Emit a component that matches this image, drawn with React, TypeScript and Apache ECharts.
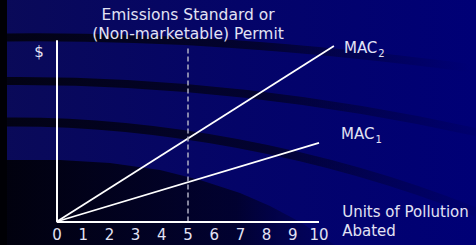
import React, { useEffect, useRef } from "react";
import * as echarts from "echarts";

const xTicks = [0, 1, 2, 3, 4, 5, 6, 7, 8, 9, 10];
const xAxisEnd = 10;
const mac1 = [
  [0, 0],
  [10, 4.36],
];
const mac2 = [
  [0, 0],
  [10.57, 9.72],
];
const standardX = 5;
const standardTop = 9.67;
const titleLines = ["Emissions Standard or", "(Non-marketable) Permit"];
const xName = ["Units of Pollution", "Abated"];
const yName = "$";

const FONT = "DejaVu Sans";
const TXT = "#e2e2f4";

export default function App() {
  const ref = useRef<HTMLDivElement>(null);
  useEffect(() => {
    document.body.style.margin = "0";
    const chart = echarts.init(ref.current!, null, { renderer: "svg" });
    const rich = {
      a: { fontSize: 15, fontFamily: FONT, color: TXT },
      b: { fontSize: 10, fontFamily: FONT, color: TXT, padding: [11, 0, 0, 1] },
    };
    const darkBand = (a1: number) =>
      new echarts.graphic.LinearGradient(0, 0, 1, 0, [
        { offset: 0, color: "rgba(2,2,18,0.97)" },
        { offset: 0.55, color: "rgba(2,2,25,0.7)" },
        { offset: 1, color: `rgba(0,0,50,${a1})` },
      ]);
    chart.setOption({
      animation: false,
      backgroundColor: "#000066",
      grid: { left: 57, right: 130.8, top: 41, bottom: 23, containLabel: false },
      xAxis: {
        type: "value",
        min: 0,
        max: 11,
        interval: 1,
        axisLine: { show: false },
        axisTick: { show: false },
        splitLine: { show: false },
        axisLabel: {
          color: TXT,
          fontSize: 15,
          fontFamily: FONT,
          margin: 6,
          formatter: (v: number) => (xTicks.includes(v) ? String(v) : ""),
        },
        name: xName.join("\n"),
        nameLocation: "end",
        nameGap: -3,
        nameTextStyle: {
          color: TXT,
          fontSize: 15,
          fontFamily: FONT,
          align: "left",
          verticalAlign: "middle",
          lineHeight: 19.5,
          padding: [8, 0, 0, 0],
        },
      },
      yAxis: {
        type: "value",
        min: 0,
        max: 10,
        axisLine: { show: true, lineStyle: { color: "#ffffff", width: 2 } },
        axisTick: { show: false },
        splitLine: { show: false },
        axisLabel: { show: false },
      },
      graphic: [
        {
          type: "rect",
          z: -10,
          shape: { x: 0, y: 0, width: 476, height: 245 },
          style: {
            fill: new echarts.graphic.LinearGradient(0, 0, 1, 0, [
              { offset: 0, color: "#0a0a58" },
              { offset: 0.5, color: "#040468" },
              { offset: 1, color: "#000076" },
            ]),
          },
        },
        {
          type: "bezierCurve",
          z: -9,
          shape: { x1: 7, y1: 37.5, cpx1: 160, cpy1: 36, cpx2: 300, cpy2: 46, x2: 470, y2: 68 },
          style: { fill: "none", lineWidth: 8, stroke: darkBand(0) },
        },
        {
          type: "bezierCurve",
          z: -9,
          shape: { x1: 7, y1: 81, cpx1: 160, cpy1: 80, cpx2: 320, cpy2: 98, x2: 476, y2: 132 },
          style: { fill: "none", lineWidth: 8, stroke: darkBand(0.1) },
        },
        {
          type: "bezierCurve",
          z: -9,
          shape: { x1: 7, y1: 122, cpx1: 150, cpy1: 121, cpx2: 320, cpy2: 150, x2: 476, y2: 212 },
          style: { fill: "none", lineWidth: 9, stroke: darkBand(0.1) },
        },
        {
          type: "polygon",
          z: -9,
          shape: {
            points: [
              [7, 160], [60, 160], [110, 163], [160, 170], [200, 180], [240, 193],
              [270, 206], [300, 222], [320, 235], [335, 245], [7, 245],
            ],
          },
          style: {
            fill: new echarts.graphic.LinearGradient(0, 0, 1, 0, [
              { offset: 0, color: "rgba(1,1,12,0.97)" },
              { offset: 0.7, color: "rgba(0,0,25,0.7)" },
              { offset: 1, color: "rgba(0,0,60,0.2)" },
            ]),
          },
        },
        {
          type: "rect",
          z: -8,
          shape: { x: 0, y: 0, width: 7, height: 245 },
          style: { fill: "#000005" },
        },
        {
          type: "text",
          z: 5,
          style: {
            text: yName,
            x: 39,
            y: 52,
            fill: TXT,
            font: `15px "${FONT}"`,
            align: "center",
            verticalAlign: "middle",
          },
        },
      ],
      series: [
        {
          type: "line",
          name: "MAC2",
          data: mac2,
          clip: false,
          showSymbol: false,
          lineStyle: { color: "#ffffff", width: 1.8 },
          endLabel: {
            show: true,
            formatter: "{a|MAC}{b|2}",
            rich,
            distance: 10,
            offset: [0, 2],
          },
          markLine: {
            silent: true,
            symbol: "none",
            lineStyle: { color: "#b0b0c4", width: 1.5, type: [5, 3] },
            label: {
              show: true,
              position: "end",
              distance: 3,
              formatter: titleLines.join("\n"),
              color: TXT,
              fontSize: 15.5,
              fontFamily: FONT,
              lineHeight: 19,
              align: "center",
            },
            data: [[{ coord: [standardX, 0] }, { coord: [standardX, standardTop] }]],
          },
        },
        {
          type: "line",
          name: "MAC1",
          data: mac1,
          clip: false,
          showSymbol: false,
          lineStyle: { color: "#ffffff", width: 1.8 },
          endLabel: {
            show: true,
            formatter: "{a|MAC}{b|1}",
            rich,
            distance: 10,
            offset: [12, -9],
          },
          markLine: {
            silent: true,
            symbol: "none",
            lineStyle: { color: "#ffffff", width: 2, type: "solid" },
            label: { show: false },
            data: [[{ coord: [0, 0] }, { coord: [xAxisEnd, 0] }]],
          },
        },
      ],
    });
    return () => chart.dispose();
  }, []);
  return (
    <div
      ref={ref}
      style={{ position: "absolute", left: 0, top: 0, width: 476, height: 245 }}
    />
  );
}
